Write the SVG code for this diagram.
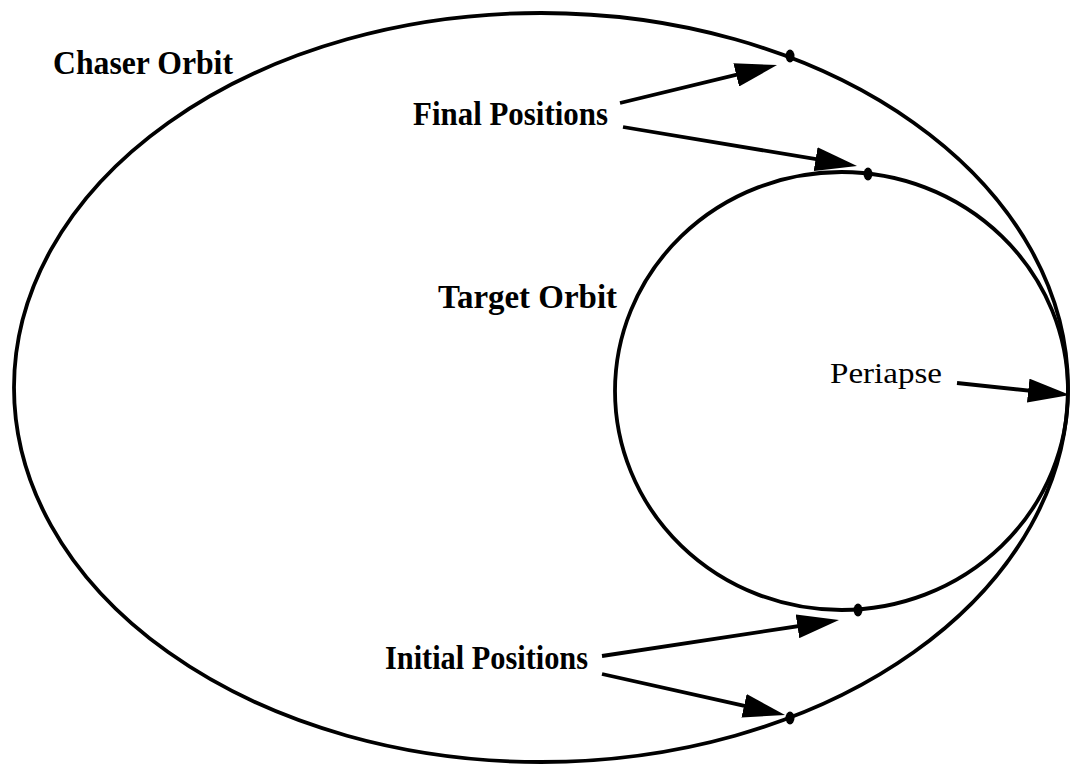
<svg xmlns="http://www.w3.org/2000/svg" width="1070" height="764" viewBox="0 0 1070 764">
<style>
.orbit{fill:none;stroke:#000;stroke-width:3.8}
.arr{fill:none;stroke:#000;stroke-width:3.8;marker-end:url(#ah)}
.dot{fill:#000}
.b{font-family:"Liberation Serif","Times New Roman",serif;font-weight:bold;font-size:33px;fill:#000}
.r{font-family:"Liberation Serif","Times New Roman",serif;font-size:30px;fill:#000}
</style>
<defs>
<marker id="ah" markerUnits="userSpaceOnUse" markerWidth="42" markerHeight="24" refX="22" refY="12" orient="auto" viewBox="0 0 42 24">
<path d="M0,0 L42,12 L0,24 z" fill="#000"/>
</marker>
</defs>
<rect width="1070" height="764" fill="#fff"/>
<g id="chaser-orbit">
<ellipse class="orbit" cx="541" cy="387.5" rx="527" ry="374.5"/>
<text class="b" x="53" y="74" textLength="180" lengthAdjust="spacingAndGlyphs">Chaser Orbit</text>
</g>
<g id="target-orbit">
<ellipse class="orbit" cx="841.5" cy="391" rx="226.5" ry="219"/>
<text class="b" x="438" y="308" textLength="179" lengthAdjust="spacingAndGlyphs">Target Orbit</text>
</g>
<g id="final-positions">
<text class="b" x="413" y="125" textLength="195" lengthAdjust="spacingAndGlyphs">Final Positions</text>
<ellipse class="dot" cx="790" cy="56" rx="4.5" ry="6.5"/>
<ellipse class="dot" cx="868" cy="174" rx="4.5" ry="6.5"/>
</g>
<g id="initial-positions">
<text class="b" x="385" y="669" textLength="203" lengthAdjust="spacingAndGlyphs">Initial Positions</text>
<ellipse class="dot" cx="858" cy="610" rx="4.5" ry="6.5"/>
<ellipse class="dot" cx="790" cy="718" rx="4.5" ry="6.5"/>
</g>
<g id="periapse">
<text class="r" x="830" y="383" textLength="112" lengthAdjust="spacingAndGlyphs">Periapse</text>
</g>
<g id="connectors">
<line class="arr" x1="620" y1="103" x2="757.6" y2="69.7"/>
<line class="arr" x1="623" y1="127" x2="837.3" y2="162.7"/>
<line class="arr" x1="957" y1="383" x2="1050.1" y2="392.9"/>
<line class="arr" x1="602" y1="656" x2="819.2" y2="623"/>
<line class="arr" x1="602" y1="674" x2="765.5" y2="710.6"/>
</g>
</svg>
